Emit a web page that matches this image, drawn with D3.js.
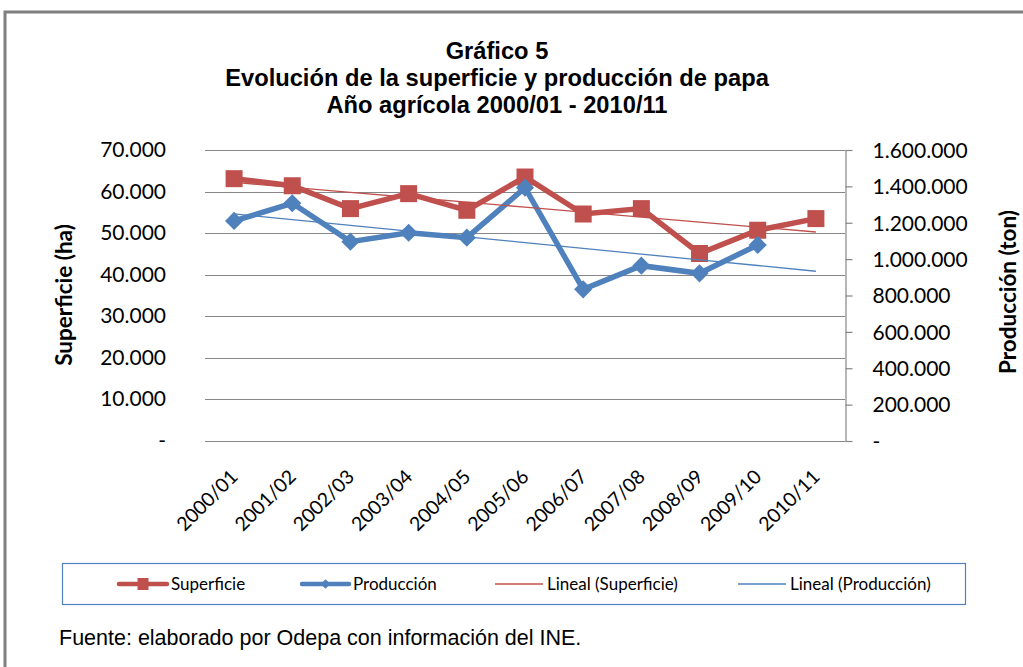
<!DOCTYPE html>
<html>
<head>
<meta charset="utf-8">
<script src="https://cdn.jsdelivr.net/npm/d3@7"></script>
<style>
  body { margin: 0; background: #fff; }
  svg { display: block; }
</style>
</head>
<body>
<svg width="1023" height="667"></svg>
<script>
const categories = ['2000/01', '2001/02', '2002/03', '2003/04', '2004/05', '2005/06',
  '2006/07', '2007/08', '2008/09', '2009/10', '2010/11']
// hectareas
const superficie = [63100, 61400, 55900, 59500, 55500, 63500, 54600, 55900, 45100, 50700, 53500]
// toneladas (2010/11 sin dato)
const produccion = [1210000, 1307000, 1096000, 1145000, 1118000, 1393000, 834000, 964000, 922000, 1078000, null]
const leftTicks = [0, 10000, 20000, 30000, 40000, 50000, 60000, 70000]
const rightTicks = [0, 200000, 400000, 600000, 800000, 1000000, 1200000, 1400000, 1600000]

const red = '#C0504D'
const blue = '#4F81BD'
const tickFont = 'Lato, "Open Sans", sans-serif'

let svg = d3.select('svg')

// frame
svg.append('rect')
  .attr('x', 5).attr('y', 12).attr('width', 1030).attr('height', 700)
  .attr('fill', '#fff').attr('stroke', '#7f7f7f').attr('stroke-width', 3)

// titles
let titles = ['Gráfico 5', 'Evolución de la superficie y producción de papa', 'Año agrícola 2000/01 - 2010/11']
svg.selectAll('text.title').data(titles).enter()
  .append('text')
  .attr('class', 'title')
  .attr('x', 497)
  .attr('y', (d, i) => 59 + i * 27)
  .attr('text-anchor', 'middle')
  .attr('font-family', '"Liberation Sans", Arial, sans-serif')
  .attr('font-weight', 'bold')
  .attr('font-size', 23.7)
  .text(d => d)

let pLeft = 205, pRight = 845, pTop = 150, pBottom = 441

let x = d3.scaleBand().domain(categories).range([pLeft, pRight])
let yL = d3.scaleLinear().domain([0, 70000]).range([pBottom, pTop])
let yR = d3.scaleLinear().domain([0, 1600000]).range([pBottom, pTop])
let fmt = v => v === 0 ? '-' : d3.format(',')(v).replace(/,/g, '.')

// gridlines
svg.append('g')
  .selectAll('line').data(leftTicks).enter()
  .append('line')
  .attr('x1', pLeft).attr('x2', pRight)
  .attr('y1', d => Math.round(yL(d)) + 0.5).attr('y2', d => Math.round(yL(d)) + 0.5)
  .attr('stroke', '#868686').attr('stroke-width', 1.2)

// left axis labels
svg.append('g')
  .selectAll('text').data(leftTicks).enter()
  .append('text')
  .attr('x', 166)
  .attr('y', d => yL(d) + 7)
  .attr('text-anchor', 'end')
  .attr('font-family', tickFont)
  .attr('font-size', 21)
  .text(fmt)

// right axis
let axisR = d3.axisRight(yR).tickValues(rightTicks).tickSize(7).tickSizeOuter(0).tickFormat(fmt)
let gR = svg.append('g').attr('transform', `translate(${pRight + 0.5},0)`).call(axisR)
gR.select('.domain').attr('stroke', '#868686').attr('stroke-width', 1.2)
gR.selectAll('.tick line').attr('stroke', '#868686').attr('stroke-width', 1.2)
gR.selectAll('.tick text')
  .attr('x', 27)
  .attr('dy', '0.35em')
  .attr('font-family', tickFont)
  .attr('font-size', 21)
  .attr('fill', '#000')

// x labels
svg.append('g')
  .selectAll('text').data(categories).enter()
  .append('text')
  .attr('transform', d => `translate(${x(d) + x.bandwidth() / 2 + 5},${pBottom + 37}) rotate(-45)`)
  .attr('text-anchor', 'end')
  .attr('font-family', tickFont)
  .attr('font-size', 19.5)
  .text(d => d)

// axis titles
svg.append('text')
  .attr('transform', 'translate(72,295) rotate(-90)')
  .attr('text-anchor', 'middle')
  .attr('font-family', tickFont)
  .attr('font-weight', 'bold')
  .attr('font-size', 22.5)
  .text('Superficie (ha)')
svg.append('text')
  .attr('transform', 'translate(1016,292) rotate(-90)')
  .attr('text-anchor', 'middle')
  .attr('font-family', tickFont)
  .attr('font-weight', 'bold')
  .attr('font-size', 22.5)
  .text('Producción (ton)')

let cx = d => x(d) + x.bandwidth() / 2

// linear trend lines (least squares over available points)
function trend(values) {
  let pts = values.map((v, i) => [i + 1, v]).filter(p => p[1] != null)
  let mx = d3.mean(pts, p => p[0]), my = d3.mean(pts, p => p[1])
  let b = d3.sum(pts, p => (p[0] - mx) * (p[1] - my)) / d3.sum(pts, p => (p[0] - mx) ** 2)
  let a = my - b * mx
  return categories.map((c, i) => ({ c: c, v: a + b * (i + 1) }))
}

let supData = categories.map((c, i) => ({ c: c, v: superficie[i] }))
let proData = categories.map((c, i) => ({ c: c, v: produccion[i] })).filter(d => d.v != null)

let lineL = d3.line().x(d => cx(d.c)).y(d => yL(d.v))
let lineR = d3.line().x(d => cx(d.c)).y(d => yR(d.v))

// series
svg.append('path').datum(supData)
  .attr('d', lineL).attr('fill', 'none').attr('stroke', red).attr('stroke-width', 5.5)
svg.append('path').datum(proData)
  .attr('d', lineR).attr('fill', 'none').attr('stroke', blue).attr('stroke-width', 5.5)

svg.selectAll('rect.sq').data(supData).enter()
  .append('rect').attr('class', 'sq')
  .attr('x', d => cx(d.c) - 8.5).attr('y', d => yL(d.v) - 8.5)
  .attr('width', 17).attr('height', 17)
  .attr('fill', red)

svg.selectAll('path.dia').data(proData).enter()
  .append('path').attr('class', 'dia')
  .attr('d', d3.symbol(d3.symbolDiamond2, 210))
  .attr('transform', d => `translate(${cx(d.c)},${yR(d.v)})`)
  .attr('fill', blue)

svg.append('path').datum(trend(superficie))
  .attr('d', lineL).attr('fill', 'none').attr('stroke', red).attr('stroke-width', 1.3)
svg.append('path').datum(trend(produccion))
  .attr('d', lineR).attr('fill', 'none').attr('stroke', blue).attr('stroke-width', 1.3)

// legend
let lg = svg.append('g')
lg.append('rect')
  .attr('x', 62.5).attr('y', 563.5).attr('width', 903).attr('height', 41)
  .attr('fill', '#fff').attr('stroke', '#4F81BD').attr('stroke-width', 1.2)

let legendItems = [
  { label: 'Superficie', color: red, w: 4.5, marker: 'sq', x0: 119, x1: 167 },
  { label: 'Producción', color: blue, w: 4.5, marker: 'dia', x0: 302, x1: 349 },
  { label: 'Lineal (Superficie)', color: red, w: 1.3, marker: null, x0: 495, x1: 543 },
  { label: 'Lineal (Producción)', color: blue, w: 1.3, marker: null, x0: 738, x1: 786 }
]
let ly = 584
legendItems.forEach(it => {
  lg.append('line').attr('x1', it.x0).attr('x2', it.x1).attr('y1', ly).attr('y2', ly)
    .attr('stroke', it.color).attr('stroke-width', it.w).attr('stroke-linecap', it.w > 2 ? 'round' : 'butt')
  let m = (it.x0 + it.x1) / 2
  if (it.marker === 'sq') {
    lg.append('rect').attr('x', m - 5.5).attr('y', ly - 6).attr('width', 11).attr('height', 12).attr('fill', it.color)
  } else if (it.marker === 'dia') {
    lg.append('path').attr('d', d3.symbol(d3.symbolDiamond2, 60))
      .attr('transform', `translate(${m},${ly})`).attr('fill', it.color)
  }
  lg.append('text').attr('x', it.x1 + 4).attr('y', ly + 6)
    .attr('font-family', tickFont).attr('font-size', 17)
    .text(it.label)
})

// source
svg.append('text')
  .attr('x', 59).attr('y', 645)
  .attr('font-family', '"Liberation Sans", Arial, sans-serif')
  .attr('font-size', 21.5)
  .text('Fuente: elaborado por Odepa con información del INE.')
</script>
</body>
</html>
